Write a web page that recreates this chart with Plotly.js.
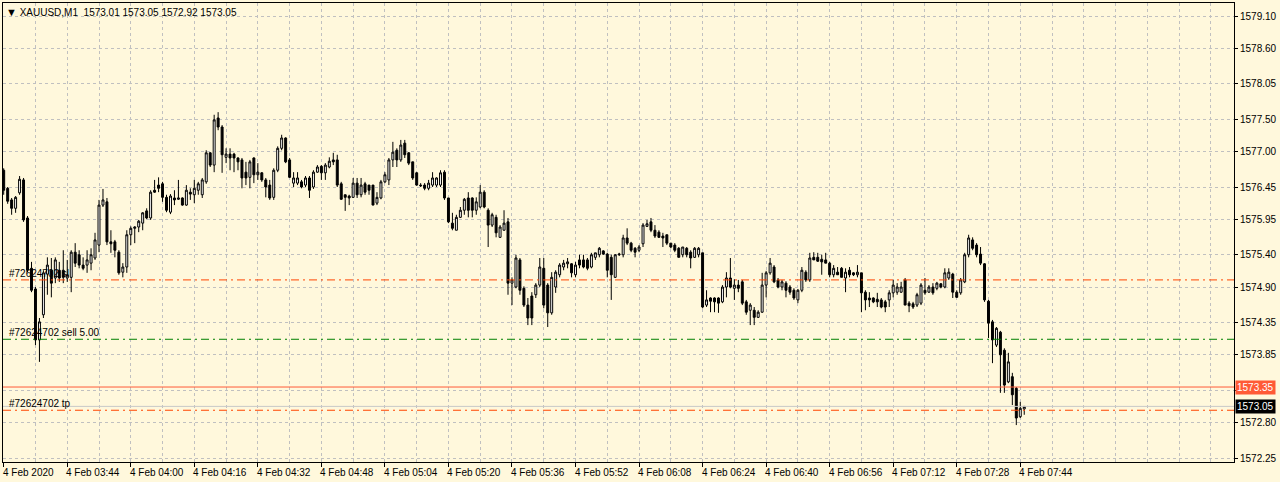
<!DOCTYPE html>
<html>
<head>
<meta charset="utf-8">
<script src="https://cdn.plot.ly/plotly-3.0.1.min.js"></script>
<style>
html,body{margin:0;padding:0;background:#FFF8DC;}
#chart{width:1280px;height:482px;}
</style>
</head>
<body>
<div id="chart"></div>
<script>
// ---------------- DATA ----------------
const symbolName = 'XAUUSD,M1';
const sessionDate = '2020-02-04';
const firstBarTime = '03:28';

const openPrices = [
1576.71,1576.43,1576.25,1576.12,1576.36,1576.56,1575.97,1575.19,1574.87,1574.08,
1574.47,1575.10,1575.16,1575.04,1575.16,1575.16,1575.04,1575.05,1575.44,1575.40,
1575.24,1575.24,1575.27,1575.35,1575.55,1576.17,1576.22,1575.60,1575.60,1575.44,
1575.13,1575.21,1575.71,1575.81,1575.83,1575.89,1576.08,1575.97,1576.40,1576.48,
1576.50,1576.29,1576.06,1576.28,1576.26,1576.28,1576.17,1576.37,1576.33,1576.40,
1576.33,1576.53,1576.98,1576.79,1577.52,1577.38,1576.91,1576.96,1576.96,1576.90,
1576.87,1576.68,1576.60,1576.90,1576.64,1576.67,1576.56,1576.48,1576.29,1576.71,
1577.05,1577.21,1576.87,1576.51,1576.51,1576.53,1576.48,1576.59,1576.45,1576.68,
1576.77,1576.67,1576.76,1576.87,1576.87,1576.50,1576.33,1576.31,1576.29,1576.51,
1576.33,1576.50,1576.48,1576.48,1576.20,1576.28,1576.53,1576.56,1576.87,1577.02,
1576.87,1577.13,1576.98,1576.84,1576.67,1576.48,1576.48,1576.43,1576.48,1576.48,
1576.48,1576.68,1576.28,1575.89,1575.78,1575.98,1576.09,1576.28,1576.28,1576.09,
1576.14,1576.37,1576.09,1575.86,1575.98,1575.67,1575.78,1575.91,1574.96,1574.90,
1575.32,1574.88,1574.62,1574.76,1574.78,1574.93,1575.19,1574.93,1574.50,1574.90,
1575.09,1575.21,1575.26,1575.26,1575.09,1575.32,1575.32,1575.32,1575.21,1575.36,
1575.40,1575.46,1575.41,1575.36,1575.05,1575.40,1575.40,1575.66,1575.58,1575.50,
1575.47,1575.57,1575.84,1575.91,1575.78,1575.75,1575.69,1575.71,1575.58,1575.55,
1575.50,1575.40,1575.50,1575.44,1575.36,1575.40,1575.43,1574.62,1574.73,1574.73,
1574.73,1574.67,1574.90,1575.04,1574.88,1574.93,1574.98,1574.67,1574.54,1574.54,
1574.43,1574.51,1574.93,1575.12,1575.21,1575.01,1574.90,1574.96,1574.90,1574.85,
1574.70,1574.85,1575.13,1575.01,1575.36,1575.36,1575.33,1575.32,1575.27,1575.09,
1575.13,1575.19,1575.04,1575.16,1575.12,1575.09,1575.12,1574.82,1574.73,1574.73,
1574.71,1574.70,1574.67,1574.70,1574.81,1574.82,1574.82,1575.01,1574.65,1574.64,
1574.62,1574.65,1574.85,1574.82,1574.90,1574.88,1574.95,1574.90,1575.04,1575.10,
1574.82,1574.81,1574.98,1575.40,1575.63,1575.55,1575.41,1575.26,1574.68,1574.36,
1574.00,1574.20,1573.92,1573.43,1573.51,1573.33,1572.89,1573.01
];
const highPrices = [
1576.74,1576.45,1576.28,1576.31,1576.62,1576.59,1576.00,1575.29,1574.90,1574.42,
1575.16,1575.36,1575.35,1575.36,1575.29,1575.47,1575.32,1575.47,1575.58,1575.47,
1575.36,1575.47,1575.50,1575.74,1576.25,1576.42,1576.28,1575.78,1575.63,1575.47,
1575.27,1575.78,1575.84,1575.84,1575.94,1576.06,1576.12,1576.40,1576.56,1576.60,
1576.53,1576.33,1576.34,1576.40,1576.56,1576.29,1576.48,1576.43,1576.56,1576.53,
1576.59,1577.02,1576.99,1577.57,1577.61,1577.41,1577.05,1577.05,1576.98,1576.91,
1576.90,1576.84,1576.87,1576.91,1576.82,1576.68,1576.59,1576.56,1576.74,1577.08,
1577.26,1577.22,1576.90,1576.68,1576.68,1576.56,1576.62,1576.62,1576.71,1576.79,
1576.79,1576.82,1576.91,1576.98,1576.95,1576.53,1576.33,1576.33,1576.59,1576.59,
1576.59,1576.53,1576.48,1576.48,1576.37,1576.56,1576.68,1576.90,1577.15,1577.05,
1577.18,1577.18,1576.99,1576.84,1576.68,1576.51,1576.51,1576.56,1576.68,1576.60,
1576.71,1576.71,1576.28,1576.05,1576.02,1576.14,1576.28,1576.37,1576.29,1576.29,
1576.48,1576.40,1576.12,1576.05,1576.02,1575.86,1576.09,1575.97,1575.05,1575.40,
1575.35,1574.91,1574.73,1574.82,1574.96,1575.35,1575.35,1574.96,1575.13,1575.16,
1575.27,1575.32,1575.35,1575.27,1575.29,1575.40,1575.40,1575.35,1575.43,1575.43,
1575.52,1575.47,1575.43,1575.40,1575.41,1575.43,1575.71,1575.81,1575.60,1575.52,
1575.55,1575.89,1575.94,1575.97,1575.86,1575.78,1575.74,1575.71,1575.58,1575.58,
1575.52,1575.52,1575.52,1575.47,1575.52,1575.52,1575.43,1574.85,1574.74,1574.74,
1574.74,1574.93,1575.13,1575.35,1575.02,1575.01,1575.01,1574.70,1574.65,1574.59,
1574.54,1575.12,1575.15,1575.35,1575.24,1575.04,1575.01,1574.99,1574.93,1574.88,
1574.87,1575.21,1575.16,1575.43,1575.44,1575.43,1575.40,1575.43,1575.29,1575.24,
1575.21,1575.21,1575.19,1575.21,1575.13,1575.24,1575.12,1574.85,1574.82,1574.74,
1574.81,1574.73,1574.70,1574.85,1575.01,1574.96,1574.98,1575.04,1574.68,1574.67,
1574.81,1574.96,1575.04,1574.93,1574.96,1574.98,1574.96,1575.19,1575.19,1575.12,
1574.85,1575.04,1575.43,1575.71,1575.67,1575.58,1575.52,1575.27,1574.70,1574.39,
1574.28,1574.22,1573.95,1573.88,1573.57,1573.35,1573.12,1573.05
];
const lowPrices = [
1576.33,1576.19,1576.02,1576.05,1576.33,1575.91,1575.13,1574.82,1574.00,1573.74,
1574.42,1574.78,1574.74,1574.96,1574.98,1574.96,1574.98,1574.82,1575.21,1575.19,
1575.16,1575.12,1575.16,1575.32,1575.44,1576.14,1575.55,1575.43,1575.36,1575.09,
1575.05,1575.12,1575.55,1575.58,1575.75,1575.78,1575.95,1575.94,1576.36,1576.37,
1576.22,1576.06,1576.03,1576.17,1576.25,1576.16,1576.16,1576.25,1576.20,1576.33,
1576.28,1576.50,1576.76,1576.68,1577.33,1576.67,1576.82,1576.71,1576.68,1576.71,
1576.43,1576.48,1576.43,1576.51,1576.56,1576.53,1576.29,1576.25,1576.25,1576.68,
1577.02,1576.82,1576.59,1576.45,1576.48,1576.43,1576.45,1576.28,1576.42,1576.67,
1576.56,1576.56,1576.74,1576.79,1576.45,1576.25,1576.08,1576.17,1576.28,1576.28,
1576.29,1576.33,1576.33,1576.17,1576.17,1576.26,1576.51,1576.48,1576.76,1576.76,
1576.84,1576.90,1576.79,1576.56,1576.47,1576.45,1576.40,1576.40,1576.45,1576.45,
1576.45,1576.25,1575.89,1575.78,1575.78,1575.97,1576.02,1575.98,1575.98,1576.02,
1576.12,1576.12,1575.52,1575.83,1575.67,1575.66,1575.78,1574.78,1574.62,1574.88,
1574.78,1574.59,1574.31,1574.31,1574.73,1574.90,1574.57,1574.28,1574.47,1574.81,
1575.05,1575.16,1575.19,1575.05,1575.05,1575.19,1575.19,1575.16,1575.19,1575.32,
1575.36,1575.40,1575.05,1574.70,1575.04,1575.38,1575.36,1575.55,1575.44,1575.36,
1575.44,1575.52,1575.83,1575.75,1575.66,1575.66,1575.52,1575.55,1575.50,1575.44,
1575.36,1575.36,1575.36,1575.19,1575.35,1575.36,1574.57,1574.59,1574.51,1574.51,
1574.50,1574.65,1574.74,1574.88,1574.70,1574.82,1574.62,1574.47,1574.31,1574.31,
1574.42,1574.50,1574.74,1575.09,1574.96,1574.88,1574.85,1574.74,1574.78,1574.70,
1574.65,1574.82,1574.98,1574.98,1575.32,1575.29,1575.09,1575.27,1575.05,1575.05,
1575.09,1575.05,1574.82,1575.05,1575.07,1575.05,1574.51,1574.54,1574.59,1574.65,
1574.59,1574.57,1574.51,1574.59,1574.74,1574.78,1574.81,1574.62,1574.51,1574.56,
1574.59,1574.62,1574.78,1574.81,1574.78,1574.85,1574.88,1574.88,1575.01,1574.73,
1574.73,1574.78,1574.96,1575.36,1575.47,1575.36,1575.24,1574.67,1574.11,1573.72,
1573.97,1573.26,1573.26,1573.41,1573.07,1572.76,1572.87,1572.92
];
const closePrices = [
1576.40,1576.23,1576.12,1576.29,1576.57,1575.94,1575.16,1574.85,1574.08,1574.36,
1575.12,1575.24,1574.96,1575.32,1575.04,1575.05,1575.09,1575.44,1575.27,1575.24,
1575.19,1575.32,1575.40,1575.63,1576.17,1576.25,1575.60,1575.57,1575.47,1575.12,
1575.21,1575.71,1575.81,1575.83,1575.92,1576.05,1575.97,1576.37,1576.37,1576.43,
1576.29,1576.09,1576.31,1576.25,1576.28,1576.17,1576.40,1576.34,1576.43,1576.50,
1576.56,1576.98,1576.79,1577.49,1577.38,1576.95,1576.96,1576.90,1576.90,1576.84,
1576.59,1576.59,1576.84,1576.64,1576.68,1576.56,1576.45,1576.28,1576.71,1577.05,
1577.21,1576.84,1576.60,1576.59,1576.59,1576.45,1576.59,1576.40,1576.68,1576.76,
1576.67,1576.79,1576.85,1576.84,1576.48,1576.26,1576.29,1576.28,1576.51,1576.33,
1576.48,1576.37,1576.40,1576.17,1576.29,1576.53,1576.64,1576.87,1576.99,1576.87,
1577.10,1576.95,1576.82,1576.59,1576.48,1576.47,1576.43,1576.51,1576.59,1576.59,
1576.67,1576.28,1575.91,1575.81,1575.98,1576.09,1576.26,1576.09,1576.09,1576.22,
1576.37,1576.14,1575.86,1576.02,1575.74,1575.83,1575.89,1574.96,1575.01,1575.35,
1574.85,1574.62,1574.42,1574.42,1574.93,1575.21,1574.62,1574.50,1575.05,1575.13,
1575.24,1575.27,1575.29,1575.12,1575.24,1575.24,1575.21,1575.19,1575.40,1575.43,
1575.50,1575.41,1575.16,1575.09,1575.40,1575.41,1575.66,1575.58,1575.47,1575.44,
1575.52,1575.86,1575.88,1575.78,1575.69,1575.67,1575.66,1575.58,1575.52,1575.47,
1575.36,1575.52,1575.40,1575.35,1575.50,1575.50,1574.59,1574.70,1574.68,1574.67,
1574.65,1574.90,1575.04,1574.90,1574.93,1574.88,1574.65,1574.51,1574.62,1574.43,
1574.51,1574.93,1575.12,1575.27,1574.98,1574.90,1574.98,1574.85,1574.82,1574.73,
1574.85,1575.16,1575.01,1575.35,1575.32,1575.30,1575.29,1575.27,1575.09,1575.19,
1575.09,1575.05,1575.13,1575.09,1575.09,1575.13,1574.81,1574.70,1574.70,1574.67,
1574.67,1574.59,1574.59,1574.81,1574.93,1574.90,1574.90,1574.62,1574.61,1574.59,
1574.78,1574.93,1574.81,1574.90,1574.81,1574.96,1574.90,1575.12,1575.13,1574.82,
1574.74,1575.01,1575.40,1575.66,1575.50,1575.40,1575.27,1574.70,1574.34,1574.08,
1574.26,1573.85,1573.38,1573.74,1573.23,1572.87,1573.02,1573.05
];

const xTickTimes = ['03:28','03:44','04:00','04:16','04:32','04:48','05:04','05:20','05:36',
  '05:52','06:08','06:24','06:40','06:56','07:12','07:28','07:44'];
const xTickLabels = ['4 Feb 2020','4 Feb 03:44','4 Feb 04:00','4 Feb 04:16','4 Feb 04:32',
  '4 Feb 04:48','4 Feb 05:04','4 Feb 05:20','4 Feb 05:36','4 Feb 05:52','4 Feb 06:08',
  '4 Feb 06:24','4 Feb 06:40','4 Feb 06:56','4 Feb 07:12','4 Feb 07:28','4 Feb 07:44'];

// grid levels of the price scale; the one at 1573.30 has its label hidden behind the ask box
const yTickValues = [1579.10,1578.60,1578.05,1577.50,1577.00,1576.45,1575.95,1575.40,
  1574.90,1574.35,1573.85,1573.30,1572.80,1572.25];
const yTickLabels = ['1579.10','1578.60','1578.05','1577.50','1577.00','1576.45','1575.95',
  '1575.40','1574.90','1574.35','1573.85','','1572.80','1572.25'];

const orderId = '#72624702';
const slLevel = 1575.01;
const entryLevel = 1574.09;
const entryLabel = 'sell 5.00';
const tpLevel = 1572.99;
const askLevel = 1573.35;
const bidLevel = 1573.05;

// ---------------- BUILD ----------------
function pad(n){ return (n < 10 ? '0' : '') + n; }
const [fh, fm] = firstBarTime.split(':').map(Number);
const barTimes = openPrices.map((_, i) => {
  const m = fh * 60 + fm + i;
  return sessionDate + ' ' + pad(Math.floor(m / 60)) + ':' + pad(m % 60);
});
const tickTimes = xTickTimes.map(t => sessionDate + ' ' + t);

const FONT = 'Liberation Sans, Arial, sans-serif';
const GRID = '#C0C0C0';
const last = openPrices.length - 1;

const trace = {
  type: 'candlestick',
  x: barTimes,
  open: openPrices, high: highPrices, low: lowPrices, close: closePrices,
  increasing: {line: {color: '#000000', width: 1}, fillcolor: '#FFFFFF'},
  decreasing: {line: {color: '#000000', width: 1}, fillcolor: '#000000'},
  whiskerwidth: 0,
  hoverinfo: 'skip',
  showlegend: false
};

const dashDot = '8px,4px,2px,4px';
function hline(y, color, dash){
  return {type: 'line', xref: 'paper', x0: 0, x1: 1, yref: 'y', y0: y, y1: y,
          line: {color: color, width: 1, dash: dash}};
}
const shapes = [
  hline(bidLevel, '#C8C8C8', 'solid'),
  hline(slLevel, '#FF4500', dashDot),
  hline(entryLevel, '#008000', dashDot),
  hline(tpLevel, '#FF4500', dashDot),
  hline(askLevel, '#FF5A36', 'solid')
];

const annotations = [];
// header
annotations.push({
  xref: 'paper', yref: 'paper', x: 0, y: 1, xanchor: 'left', yanchor: 'top',
  xshift: 1, yshift: -1, showarrow: false,
  text: '<span style="font-size:11px">▼</span>\u00a0' + symbolName + '\u00a0 ' +
        [openPrices[last], highPrices[last], lowPrices[last], closePrices[last]].map(v => v.toFixed(2)).join(' '),
  font: {family: FONT, size: 10, color: '#000'}
});
// x labels, left aligned at tick
tickTimes.forEach((t, i) => {
  annotations.push({
    xref: 'x', yref: 'paper', x: t, y: 0, xanchor: 'left', yanchor: 'top',
    xshift: -3, yshift: -3, showarrow: false, text: xTickLabels[i],
    font: {family: FONT, size: 10, color: '#000'}
  });
});
// order line labels
[[slLevel, orderId + ' sl'], [entryLevel, orderId + ' ' + entryLabel], [tpLevel, orderId + ' tp']].forEach(([lv, txt]) => {
  annotations.push({
    xref: 'paper', yref: 'y', x: 0, y: lv, xanchor: 'left', yanchor: 'bottom',
    xshift: 4, yshift: -1, showarrow: false, text: txt,
    font: {family: FONT, size: 10, color: '#000'}
  });
});
// ask / bid price boxes on the axis
[[askLevel, '#FF5A36'], [bidLevel, '#000000']].forEach(([lv, bg]) => {
  annotations.push({
    xref: 'paper', yref: 'y', x: 1, y: lv, xanchor: 'left', yanchor: 'middle',
    xshift: 1, showarrow: false, text: lv.toFixed(2), bgcolor: bg, borderpad: 1,
    font: {family: FONT, size: 10, color: '#FFFFFF'}
  });
});

const layout = {
  width: 1280, height: 482,
  margin: {l: 3, r: 46, t: 3, b: 20, pad: 0},
  paper_bgcolor: '#FFF8DC', plot_bgcolor: '#FFF8DC',
  showlegend: false,
  xaxis: {
    type: 'date',
    range: [sessionDate + ' 03:27:49.4', sessionDate + ' 08:37:49.4'],
    rangeslider: {visible: false},
    tickmode: 'array', tickvals: tickTimes, ticktext: xTickLabels,
    showticklabels: false, ticks: 'outside', ticklen: 4, tickcolor: '#000',
    showgrid: true, gridcolor: GRID, gridwidth: 1, griddash: '3px,3px',
    minor: {tick0: tickTimes[0], dtick: 8 * 60 * 1000, showgrid: true,
            gridcolor: GRID, gridwidth: 1, griddash: '3px,3px', ticks: ''},
    showline: true, mirror: true, linecolor: '#000', linewidth: 1,
    zeroline: false, fixedrange: true
  },
  yaxis: {
    side: 'right',
    range: [1572.188, 1579.302],
    tickmode: 'array', tickvals: yTickValues, ticktext: yTickLabels,
    ticks: 'outside', ticklen: 3, tickcolor: '#000',
    tickfont: {family: FONT, size: 10, color: '#000'},
    showgrid: true, gridcolor: GRID, gridwidth: 1, griddash: '3px,3px',
    showline: true, mirror: true, linecolor: '#000', linewidth: 1,
    zeroline: false, fixedrange: true
  },
  shapes: shapes,
  annotations: annotations
};

Plotly.newPlot('chart', [trace], layout, {staticPlot: true, displayModeBar: false});
</script>
</body>
</html>
